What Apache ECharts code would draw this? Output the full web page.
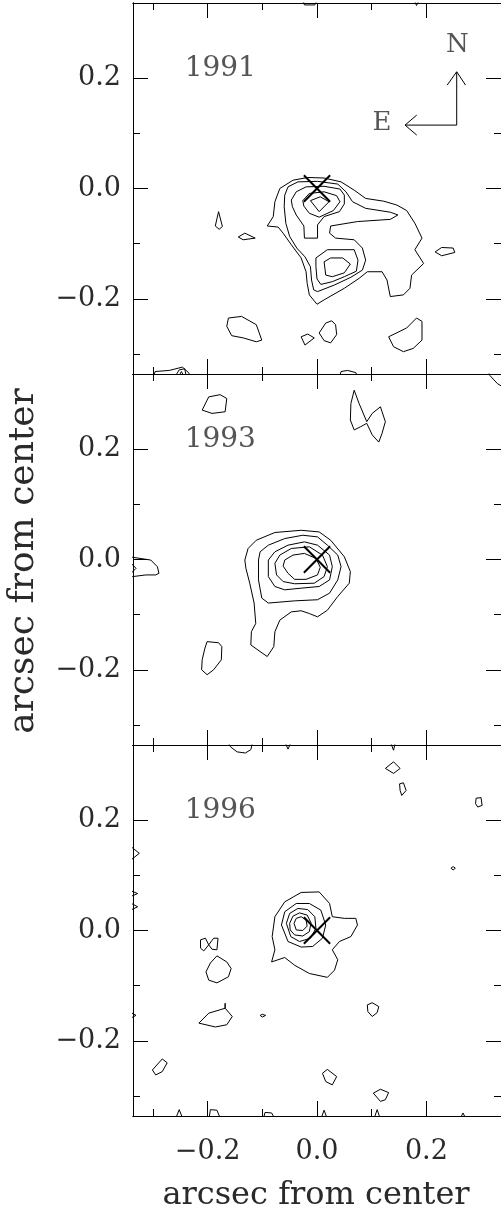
<!DOCTYPE html>
<html><head><meta charset="utf-8">
<script src="https://cdn.jsdelivr.net/npm/echarts@6/dist/echarts.min.js"></script>
<style>html,body{margin:0;padding:0;background:#fff}#c{width:501px;height:1214px}</style>
</head><body><div id="c"></div>
<script>
// ---- axis / labels ----
const AX = 0.3365;
const majorTicks = [-0.2, 0, 0.2];
const minorTicks = [-0.3, -0.1, 0.1];
const years = ['1991', '1993', '1996'];
const yearPos = [-0.243, 0.217];
const axisTitle = 'arcsec from center';
const compassN = [0.2567, 0.260];
const compassE = [0.119, 0.1186];
const arrowN = [[0.2555, 0.115], [0.2555, 0.211]];
const arrowE = [[0.2555, 0.115], [0.161, 0.115]];
const headN = [[0.238, 0.1875], [0.2555, 0.2118], [0.2717, 0.1875]];
const headE = [[0.1824, 0.1332], [0.161, 0.115], [0.1824, 0.0969]];
const xMarkA = [[-0.024, 0.024], [0.024, -0.024]];
const xMarkB = [[-0.024, -0.024], [0.024, 0.024]];

// ---- panel 1 (1991) contours ----
const p1_L1 = [[-0.091,-0.068],[-0.080,-0.051],[-0.077,-0.024],[-0.068,0.000],[-0.044,0.015],[-0.017,0.020],[0.013,0.019],[0.044,0.012],[0.068,-0.003],[0.089,-0.018],[0.122,-0.023],[0.146,-0.030],[0.164,-0.040],[0.179,-0.063],[0.192,-0.090],[0.179,-0.111],[0.195,-0.136],[0.173,-0.157],[0.170,-0.181],[0.158,-0.193],[0.134,-0.196],[0.128,-0.166],[0.119,-0.151],[0.092,-0.151],[0.077,-0.163],[0.050,-0.181],[0.013,-0.202],[0.000,-0.210],[-0.014,-0.193],[-0.018,-0.172],[-0.020,-0.151],[-0.029,-0.126],[-0.047,-0.102],[-0.062,-0.081],[-0.071,-0.070]];
const p1_L2 = [[-0.059,-0.012],[-0.053,0.003],[-0.035,0.012],[0.001,0.013],[0.038,0.008],[0.053,-0.006],[0.065,-0.024],[0.089,-0.036],[0.134,-0.043],[0.148,-0.048],[0.134,-0.056],[0.074,-0.060],[0.025,-0.068],[0.023,-0.081],[0.034,-0.090],[0.068,-0.093],[0.083,-0.108],[0.089,-0.130],[0.083,-0.148],[0.062,-0.161],[0.032,-0.175],[0.001,-0.187],[-0.006,-0.184],[-0.010,-0.166],[-0.012,-0.142],[-0.022,-0.124],[-0.037,-0.108],[-0.050,-0.087],[-0.057,-0.063],[-0.060,-0.033]];
const p1_L3a = [[-0.047,-0.021],[-0.038,-0.006],[-0.020,0.003],[0.013,0.004],[0.042,-0.001],[0.050,-0.012],[0.050,-0.028],[0.041,-0.042],[0.013,-0.051],[0.001,-0.066],[0.001,-0.090],[-0.023,-0.090],[-0.024,-0.068],[-0.038,-0.048],[-0.045,-0.033]];
const p1_L4a = [[-0.026,-0.022],[-0.014,-0.009],[0.013,-0.006],[0.036,-0.013],[0.042,-0.024],[0.030,-0.040],[0.004,-0.052],[-0.014,-0.045],[-0.024,-0.032]];
const p1_L5a = [[-0.012,-0.022],[0.006,-0.015],[0.022,-0.024],[0.004,-0.042]];
const p1_L3b = [[-0.002,-0.126],[0.019,-0.111],[0.068,-0.111],[0.075,-0.130],[0.072,-0.150],[0.050,-0.160],[0.028,-0.169],[0.007,-0.174],[0.000,-0.164],[-0.002,-0.142]];
const p1_L4b = [[0.013,-0.133],[0.025,-0.126],[0.047,-0.126],[0.061,-0.137],[0.050,-0.153],[0.028,-0.160],[0.016,-0.157]];
const p1_i1 = [[-0.180,-0.042],[-0.173,-0.069],[-0.179,-0.074],[-0.186,-0.068]];
const p1_i2 = [[-0.144,-0.088],[-0.132,-0.081],[-0.113,-0.090],[-0.135,-0.093]];
const p1_i3 = [[0.216,-0.115],[0.228,-0.107],[0.249,-0.108],[0.252,-0.116],[0.228,-0.122]];
const p1_i4 = [[-0.162,-0.235],[-0.138,-0.232],[-0.111,-0.247],[-0.101,-0.275],[-0.111,-0.278],[-0.135,-0.271],[-0.156,-0.267],[-0.165,-0.250]];
const p1_i5 = [[-0.029,-0.269],[-0.017,-0.264],[-0.005,-0.271],[-0.022,-0.284]];
const p1_i6 = [[0.004,-0.262],[0.016,-0.244],[0.027,-0.240],[0.034,-0.247],[0.036,-0.265],[0.025,-0.280],[0.013,-0.276]];
const p1_i7 = [[0.131,-0.269],[0.164,-0.253],[0.182,-0.235],[0.192,-0.241],[0.192,-0.275],[0.176,-0.290],[0.158,-0.296],[0.140,-0.287]];
const p1_e1 = [[-0.300,-0.345],[-0.296,-0.332],[-0.270,-0.330],[-0.246,-0.324],[-0.234,-0.335],[-0.232,-0.345]];
const p1_e2 = [[-0.262,-0.345],[-0.252,-0.329],[-0.242,-0.327],[-0.238,-0.345]];
const p1_e3 = [[-0.255,-0.345],[-0.248,-0.332],[-0.241,-0.345]];
const p1_e4 = [[0.040,-0.345],[0.044,-0.332],[0.056,-0.330],[0.071,-0.334],[0.075,-0.345]];
const p1_e5 = [[-0.027,0.345],[-0.023,0.333],[-0.004,0.333],[0.002,0.345]];
const p1_e6 = [[0.176,0.345],[0.182,0.332],[0.189,0.345]];

// ---- panel 2 (1993) contours ----
const p2_L1 = [[-0.132,-0.001],[-0.126,0.020],[-0.111,0.035],[-0.077,0.049],[-0.029,0.053],[0.004,0.050],[0.025,0.035],[0.050,0.005],[0.061,-0.022],[0.059,-0.043],[0.038,-0.067],[0.019,-0.092],[0.001,-0.104],[-0.014,-0.098],[-0.029,-0.093],[-0.047,-0.095],[-0.068,-0.110],[-0.077,-0.131],[-0.079,-0.158],[-0.091,-0.176],[-0.104,-0.167],[-0.121,-0.155],[-0.120,-0.131],[-0.112,-0.116],[-0.115,-0.079],[-0.123,-0.043],[-0.130,-0.016]];
const p2_L2 = [[-0.107,-0.001],[-0.104,0.014],[-0.089,0.026],[-0.059,0.038],[-0.026,0.044],[0.001,0.041],[0.019,0.026],[0.038,0.008],[0.044,-0.013],[0.038,-0.037],[0.023,-0.061],[0.001,-0.073],[-0.041,-0.075],[-0.089,-0.079],[-0.101,-0.070],[-0.107,-0.037]];
const p2_L3 = [[-0.089,-0.001],[-0.077,0.014],[-0.053,0.026],[-0.023,0.032],[0.001,0.026],[0.023,0.008],[0.028,-0.013],[0.023,-0.037],[0.004,-0.049],[-0.029,-0.052],[-0.059,-0.055],[-0.077,-0.049],[-0.089,-0.031]];
const p2_L4 = [[-0.077,-0.007],[-0.068,0.008],[-0.047,0.020],[-0.014,0.023],[0.010,0.008],[0.019,-0.013],[0.013,-0.031],[-0.005,-0.043],[-0.041,-0.044],[-0.062,-0.040],[-0.074,-0.028]];
const p2_L5 = [[-0.062,-0.012],[-0.059,-0.001],[-0.044,0.008],[-0.023,0.011],[-0.002,0.002],[0.006,-0.014],[0.001,-0.028],[-0.020,-0.036],[-0.041,-0.036],[-0.053,-0.025]];
const p2_i1 = [[-0.201,-0.149],[-0.180,-0.151],[-0.174,-0.158],[-0.175,-0.182],[-0.189,-0.200],[-0.201,-0.209],[-0.211,-0.200],[-0.210,-0.182],[-0.205,-0.161]];
const p2_i2 = [[-0.210,0.271],[-0.198,0.295],[-0.177,0.299],[-0.165,0.292],[-0.168,0.268],[-0.192,0.265]];
const p2_i3 = [[0.068,0.307],[0.077,0.283],[0.091,0.250],[0.101,0.265],[0.116,0.277],[0.125,0.250],[0.119,0.229],[0.113,0.213],[0.101,0.226],[0.091,0.247],[0.080,0.241],[0.068,0.235],[0.061,0.253],[0.062,0.283]];
const p2_e1 = [[-0.345,0.005],[-0.337,0.004],[-0.304,-0.001],[-0.292,-0.013],[-0.289,-0.025],[-0.295,-0.028],[-0.313,-0.028],[-0.337,-0.031],[-0.345,-0.032]];
const p2_e2 = [[-0.345,-0.002],[-0.331,-0.016],[-0.345,-0.030]];
const p2_e3 = [[0.312,0.345],[0.316,0.334],[0.330,0.319],[0.345,0.310]];

// ---- panel 3 (1996) contours ----
const p3_L1 = [[-0.083,-0.057],[-0.077,-0.035],[-0.082,-0.011],[-0.077,0.025],[-0.059,0.052],[-0.029,0.069],[0.004,0.070],[0.023,0.049],[0.028,0.025],[0.050,0.022],[0.071,0.022],[0.074,0.010],[0.062,-0.011],[0.041,-0.020],[0.028,-0.035],[0.038,-0.053],[0.032,-0.072],[0.019,-0.085],[-0.014,-0.078],[-0.041,-0.063],[-0.059,-0.049]];
const p3_L2 = [[-0.065,0.010],[-0.059,0.034],[-0.038,0.049],[-0.014,0.049],[0.007,0.037],[0.016,0.010],[0.010,-0.014],[-0.008,-0.029],[-0.029,-0.030],[-0.053,-0.020]];
const p3_L3 = [[-0.056,0.013],[-0.050,0.031],[-0.035,0.040],[-0.017,0.038],[-0.004,0.025],[-0.002,0.004],[-0.012,-0.014],[-0.032,-0.020],[-0.048,-0.011]];
const p3_L4 = [[-0.050,0.013],[-0.044,0.026],[-0.032,0.032],[-0.018,0.028],[-0.011,0.014],[-0.014,-0.002],[-0.026,-0.010],[-0.041,-0.008],[-0.049,0.001]];
const p3_L5 = [[-0.042,0.013],[-0.038,0.022],[-0.029,0.025],[-0.020,0.019],[-0.018,0.008],[-0.026,0.000],[-0.038,0.001]];
const p3_i1 = [[-0.213,-0.017],[-0.204,-0.014],[-0.198,-0.026],[-0.189,-0.014],[-0.181,-0.014],[-0.183,-0.035],[-0.192,-0.034],[-0.198,-0.026],[-0.207,-0.037],[-0.213,-0.032]];
const p3_i2 = [[-0.183,-0.046],[-0.165,-0.057],[-0.157,-0.069],[-0.162,-0.084],[-0.183,-0.095],[-0.198,-0.090],[-0.203,-0.075],[-0.195,-0.059]];
const p3_i3 = [[-0.216,-0.168],[-0.198,-0.150],[-0.168,-0.141],[-0.168,-0.132],[-0.168,-0.141],[-0.155,-0.156],[-0.165,-0.171],[-0.186,-0.175]];
const p3_i4 = [[-0.104,-0.154],[-0.100,-0.152],[-0.094,-0.154],[-0.100,-0.157]];
const p3_i5 = [[0.092,-0.135],[0.101,-0.131],[0.113,-0.138],[0.110,-0.149],[0.101,-0.156],[0.093,-0.147]];
const p3_i6 = [[-0.301,-0.253],[-0.283,-0.233],[-0.274,-0.240],[-0.283,-0.256],[-0.295,-0.262]];
const p3_i7 = [[0.010,-0.259],[0.019,-0.252],[0.036,-0.265],[0.028,-0.280],[0.016,-0.274]];
const p3_i8 = [[0.103,-0.295],[0.116,-0.288],[0.131,-0.294],[0.125,-0.307],[0.116,-0.310]];
const p3_i9 = [[0.125,0.294],[0.140,0.306],[0.152,0.294],[0.140,0.285]];
const p3_i10 = [[0.151,0.266],[0.158,0.268],[0.163,0.254],[0.155,0.245],[0.152,0.254]];
const p3_i11 = [[0.291,0.240],[0.300,0.241],[0.302,0.227],[0.294,0.224],[0.290,0.230]];
const p3_i12 = [[0.245,0.113],[0.249,0.116],[0.253,0.113],[0.249,0.110]];
const p3_e1 = [[-0.165,0.345],[-0.158,0.333],[-0.146,0.324],[-0.131,0.322],[-0.121,0.328],[-0.117,0.345]];
const p3_e2 = [[-0.060,0.345],[-0.053,0.329],[-0.046,0.345]];
const p3_e3 = [[0.133,0.345],[0.140,0.327],[0.144,0.345]];
const p3_e4 = [[-0.345,0.156],[-0.325,0.140],[-0.345,0.124]];
const p3_e5 = [[-0.345,0.074],[-0.328,0.067],[-0.345,0.060]];
const p3_e6 = [[-0.345,0.052],[-0.328,0.043],[-0.345,0.035]];
const p3_e7 = [[-0.345,-0.146],[-0.331,-0.154],[-0.345,-0.161]];
const p3_e8 = [[-0.260,-0.345],[-0.252,-0.325],[-0.244,-0.345]];
const p3_e9 = [[-0.198,-0.345],[-0.195,-0.325],[-0.183,-0.326],[-0.175,-0.345]];
const p3_e10 = [[-0.099,-0.345],[-0.095,-0.330],[-0.083,-0.331],[-0.075,-0.345]];
const p3_e11 = [[0.006,-0.345],[0.013,-0.326],[0.020,-0.345]];
const p3_e12 = [[0.103,-0.345],[0.110,-0.325],[0.117,-0.345]];
const p3_e13 = [[0.260,-0.345],[0.267,-0.331],[0.274,-0.345]];

const panelClosed = [
  [p1_L1, p1_L2, p1_L3a, p1_L4a, p1_L5a, p1_L3b, p1_L4b, p1_i1, p1_i2, p1_i3, p1_i4, p1_i5, p1_i6, p1_i7],
  [p2_L1, p2_L2, p2_L3, p2_L4, p2_L5, p2_i1, p2_i2, p2_i3],
  [p3_L1, p3_L2, p3_L3, p3_L4, p3_L5, p3_i1, p3_i2, p3_i3, p3_i4, p3_i5, p3_i6, p3_i7, p3_i8, p3_i9, p3_i10, p3_i11, p3_i12]
];
const panelOpen = [
  [p1_e1, p1_e2, p1_e3, p1_e4, p1_e5, p1_e6],
  [p2_e1, p2_e2, p2_e3],
  [p3_e1, p3_e2, p3_e3, p3_e4, p3_e5, p3_e6, p3_e7, p3_e8, p3_e9, p3_e10, p3_e11, p3_e12, p3_e13]
];

// ---- layout ----
const FONT = '"DejaVu Serif", "Liberation Serif", serif';
const TXT = '#2a2a2a';
const G_LEFT = 133, G_W = 372, G_H = 371, G_TOPS = [3, 374, 745];
const fmt = v => (v < 0 ? '\u2212' : '') + Math.abs(v).toFixed(1);

const grid = G_TOPS.map(t => ({left: G_LEFT, top: t, width: G_W, height: G_H, containLabel: false}));
const xAxis = [], yAxis = [];
function mkAxis(kind, gi, pos, major, showLabel) {
  const a = {
    type: 'value', gridIndex: gi, position: pos, min: -AX, max: AX,
    splitLine: {show: false},
    axisLine: {show: true, onZero: false, lineStyle: {color: '#000', width: 1}},
    axisTick: {show: true, inside: true, length: major ? 15 : 7,
      customValues: major ? majorTicks : minorTicks, lineStyle: {color: '#000', width: 1}},
    axisLabel: {show: showLabel, customValues: majorTicks, formatter: fmt,
      fontFamily: FONT, fontSize: 27, color: TXT, margin: kind === 'x' ? 22 : 12}
  };
  (kind === 'x' ? xAxis : yAxis).push(a);
}
for (let gi = 0; gi < 3; gi++) {
  mkAxis('x', gi, 'bottom', true, gi === 2);
  mkAxis('x', gi, 'bottom', false, false);
  mkAxis('x', gi, 'top', true, false);
  mkAxis('x', gi, 'top', false, false);
  mkAxis('y', gi, 'left', true, true);
  mkAxis('y', gi, 'left', false, false);
  mkAxis('y', gi, 'right', true, false);
  mkAxis('y', gi, 'right', false, false);
}

const series = [];
function lineS(gi, pts, width) {
  series.push({type: 'line', xAxisIndex: gi * 4, yAxisIndex: gi * 4, data: pts,
    showSymbol: false, symbol: 'none', silent: true, clip: true, animation: false,
    lineStyle: {color: '#000', width: width || 1}, z: 3});
}
for (let gi = 0; gi < 3; gi++) {
  panelClosed[gi].forEach(c => lineS(gi, c.concat([c[0]])));
  panelOpen[gi].forEach(c => lineS(gi, c));
  lineS(gi, xMarkA, 2);
  lineS(gi, xMarkB, 2);
  series.push({type: 'scatter', xAxisIndex: gi * 4, yAxisIndex: gi * 4, symbolSize: 1,
    itemStyle: {color: 'rgba(0,0,0,0)'}, silent: true, animation: false,
    data: [{name: years[gi], value: yearPos}],
    label: {show: true, position: 'right', distance: 0, formatter: '{b}',
      fontFamily: FONT, fontSize: 28, color: TXT}});
}
// compass
lineS(0, arrowN); lineS(0, arrowE); lineS(0, headN); lineS(0, headE);
series.push({type: 'scatter', xAxisIndex: 0, yAxisIndex: 0, symbolSize: 1,
  itemStyle: {color: 'rgba(0,0,0,0)'}, silent: true, animation: false,
  data: [{name: 'N', value: compassN}, {name: 'E', value: compassE}],
  label: {show: true, position: 'inside', formatter: '{b}', fontFamily: FONT, fontSize: 26, color: TXT}});

const chart = echarts.init(document.getElementById('c'), null, {renderer: 'canvas'});
chart.setOption({
  animation: false,
  backgroundColor: '#fff',
  grid, xAxis, yAxis, series,
  graphic: [
    {type: 'text', x: 316, y: 1196, style: {text: axisTitle, font: '32px ' + FONT,
      textAlign: 'center', textVerticalAlign: 'middle', fill: TXT}},
    {type: 'text', x: 24, y: 561, rotation: Math.PI / 2, style: {text: axisTitle, font: '36px ' + FONT,
      textAlign: 'center', textVerticalAlign: 'middle', fill: TXT}}
  ]
});
</script></body></html>
